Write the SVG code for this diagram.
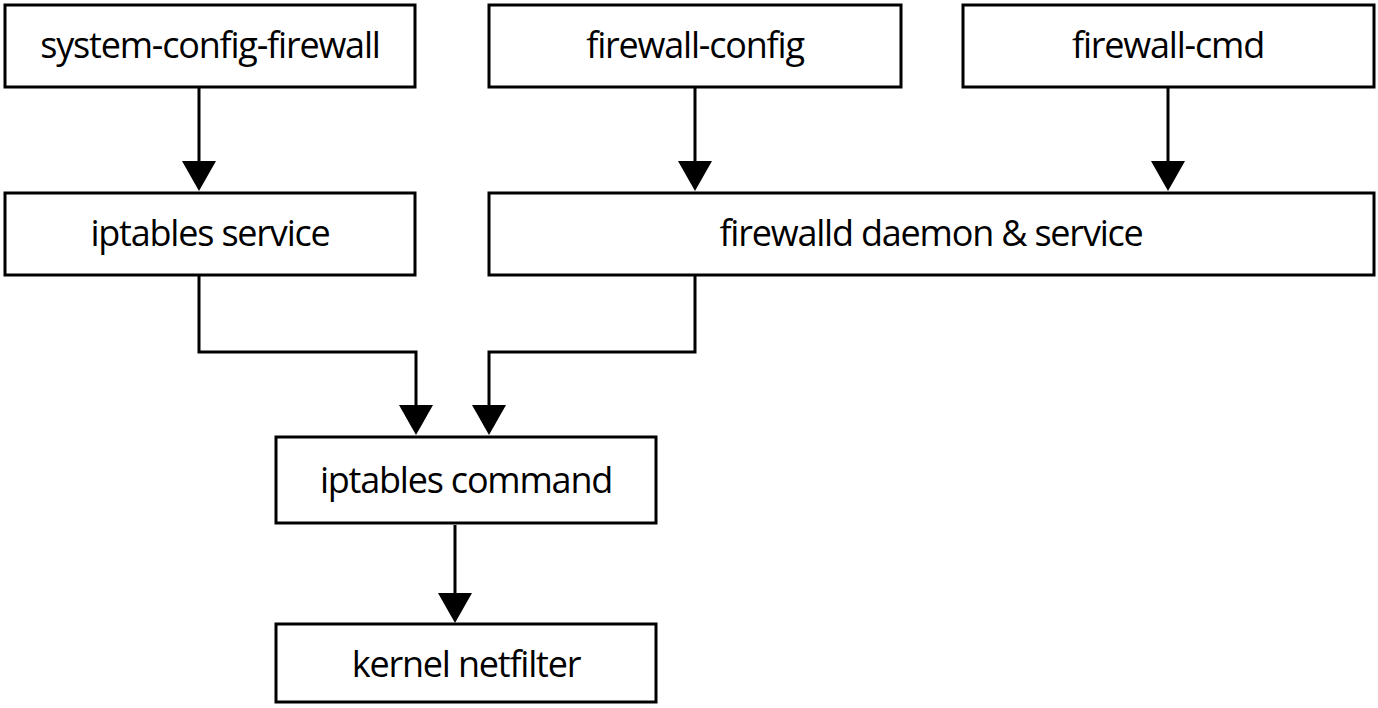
<svg xmlns="http://www.w3.org/2000/svg" width="1378" height="708" viewBox="0 0 1378 708">
<style>
.box{fill:#fff;stroke:#000;stroke-width:3}
.lbl{font-family:"Open Sans","Noto Sans",sans-serif;font-size:36px;letter-spacing:-1.2px;fill:#000;text-anchor:middle}
.con{fill:none;stroke:#000;stroke-width:3;marker-end:url(#arr)}
</style>
<defs>
<marker id="arr" markerUnits="userSpaceOnUse" markerWidth="30" markerHeight="36" viewBox="0 0 30 36" refX="20" refY="18" orient="auto">
<path d="M0,1 L30,18 L0,35 z" fill="#000"/>
</marker>
</defs>
<rect width="1378" height="708" fill="#fff"/>
<g id="connectors">
<path class="con" d="M199,88 V181"/>
<path class="con" d="M695,88 V181"/>
<path class="con" d="M1168,88 V181"/>
<path class="con" d="M199,276 V352 H416 V425"/>
<path class="con" d="M695,276 V352 H489 V425"/>
<path class="con" d="M455,525 V613"/>
</g>
<g id="system-config-firewall"><rect class="box" x="5" y="5" width="410" height="82"/><text class="lbl" x="210" y="58">system-config-firewall</text></g>
<g id="firewall-config"><rect class="box" x="489" y="5" width="412" height="82"/><text class="lbl" x="695" y="58">firewall-config</text></g>
<g id="firewall-cmd"><rect class="box" x="963" y="5" width="411" height="82"/><text class="lbl" x="1168" y="58">firewall-cmd</text></g>
<g id="iptables-service"><rect class="box" x="5" y="193" width="410" height="82"/><text class="lbl" x="210" y="246">iptables service</text></g>
<g id="firewalld"><rect class="box" x="489" y="193" width="885" height="82"/><text class="lbl" x="931" y="246">firewalld daemon &amp; service</text></g>
<g id="iptables-command"><rect class="box" x="276" y="437" width="380" height="86"/><text class="lbl" x="466" y="493">iptables command</text></g>
<g id="kernel-netfilter"><rect class="box" x="276" y="624" width="380" height="78"/><text class="lbl" x="466" y="677">kernel netfilter</text></g>
</svg>
